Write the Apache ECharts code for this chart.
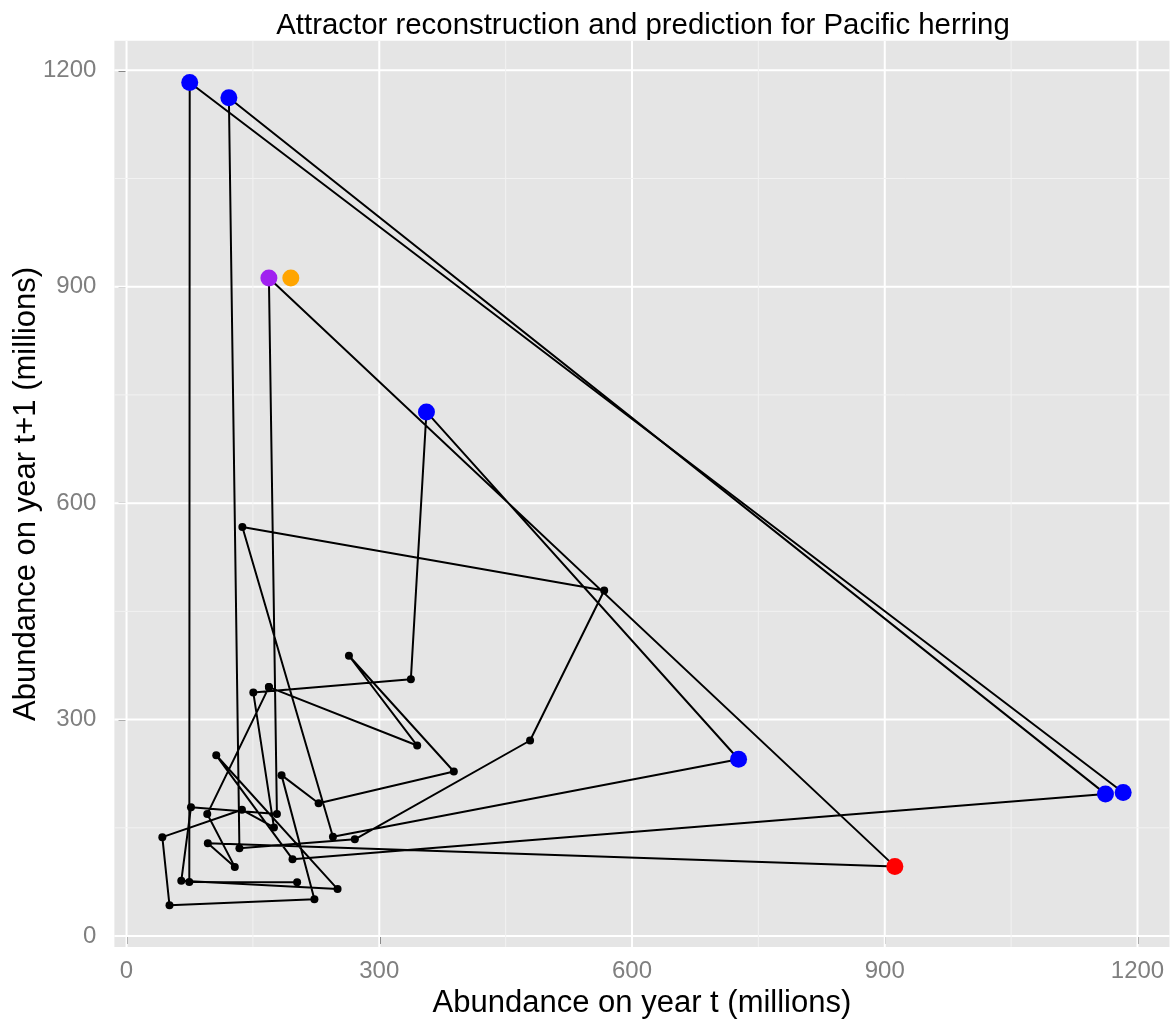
<!DOCTYPE html>
<html>
<head>
<meta charset="utf-8">
<script src="https://cdn.jsdelivr.net/npm/echarts@6/dist/echarts.min.js"></script>
<style>
html, body { margin: 0; padding: 0; background: #ffffff; }
#chart { width: 1174px; height: 1020px; }
</style>
</head>
<body>
<div id="chart"></div>
<script>
// ---- data ----
// main trajectory: abundance on year t and on year t+1 (millions), in path order
const cycleT  = [169, 345, 264, 388.5, 228, 184, 223, 51, 42.5, 137, 175, 150.5, 337.5, 356, 726.5, 245, 137.5, 567, 479, 271, 134, 121.5, 1162, 197, 106.5, 250.5, 65, 76.5, 178.5, 169, 912, 96.5, 128.5, 95.8, 169];
const cycleT1 = [345, 264, 388.5, 228, 184, 223, 51, 42.5, 137, 175, 150.5, 337.5, 356, 726.5, 245, 137.5, 567, 479, 271, 134, 121.5, 1162, 197, 106.5, 250.5, 65, 76.5, 178.5, 169, 912, 96.5, 128.5, 95.8, 169, 345];
// second short trajectory piece
const pathT  = [202.5, 74.5, 75, 1183];
const pathT1 = [74.5, 75, 1183, 199];
// highlighted points
const neighborT  = [75, 121.5, 356, 726.5, 1162, 1183];
const neighborT1 = [1183, 1162, 726.5, 245, 197, 199];
const targetT = [169],  targetT1 = [912];
const observedT = [912], observedT1 = [96.5];
const predictedT = [195], predictedT1 = [912];
// axis ticks
const majorTicks = [0, 300, 600, 900, 1200];
const minorTicks = [150, 450, 750, 1050];

const titleText = 'Attractor reconstruction and prediction for Pacific herring';
const xTitle = 'Abundance on year t (millions)';
const yTitle = 'Abundance on year t+1 (millions)';

// ---- build ----
const zip = (a, b) => a.map((v, i) => [v, b[i]]);
const gridData = [];
majorTicks.forEach(v => { gridData.push([0, v, 1]); gridData.push([1, v, 1]); });
minorTicks.forEach(v => { gridData.push([0, v, 0]); gridData.push([1, v, 0]); });

const FONT = 'Liberation Sans, Arial, Helvetica, sans-serif';
const chart = echarts.init(document.getElementById('chart'), null, { renderer: 'canvas' });

function axisCommon(name, isX) {
  return {
    type: 'value',
    min: isX ? -14.4 : -15.1,
    max: isX ? 1238 : 1240.9,
    name: name,
    nameLocation: 'middle',
    nameGap: isX ? 38 : 72,
    nameMoveOverlap: isX ? undefined : false,
    nameTextStyle: { fontFamily: FONT, fontSize: 31, color: '#000000' },
    axisLine: { show: false },
    splitLine: { show: false },
    axisTick: { show: true, customValues: majorTicks, length: 8, lineStyle: { color: '#333333', width: 1.5 } },
    axisLabel: {
      customValues: majorTicks, fontFamily: FONT, fontSize: 24, color: '#7F7F7F', margin: isX ? 12 : 18,
      formatter: function (v) { return String(v); }
    }
  };
}

const option = {
  animation: false,
  backgroundColor: '#ffffff',
  title: {
    text: titleText,
    left: 638, top: 6, textAlign: 'center',
    textStyle: { fontFamily: FONT, fontSize: 29.4, fontWeight: 'normal', color: '#000000' }
  },
  grid: {
    left: 114.4, right: 4.5, top: 40.8, bottom: 73.1,
    outerBoundsMode: 'none', containLabel: false,
    show: true, backgroundColor: '#E5E5E5', borderWidth: 0
  },
  xAxis: axisCommon(xTitle, true),
  yAxis: axisCommon(yTitle, false),
  series: [
    {
      type: 'custom', z: 1, silent: true, clip: true,
      data: gridData,
      renderItem: function (params, api) {
        const cs = params.coordSys;
        const dir = api.value(0), v = api.value(1), major = api.value(2) === 1;
        const style = { stroke: major ? '#FFFFFF' : '#F2F2F2', lineWidth: major ? 2 : 1 };
        if (dir === 0) {
          const p = api.coord([v, 0]);
          return { type: 'line', shape: { x1: p[0], y1: cs.y, x2: p[0], y2: cs.y + cs.height }, style: style };
        } else {
          const p = api.coord([0, v]);
          return { type: 'line', shape: { x1: cs.x, y1: p[1], x2: cs.x + cs.width, y2: p[1] }, style: style };
        }
      }
    },
    {
      type: 'line', z: 3, data: zip(cycleT, cycleT1),
      symbol: 'circle', symbolSize: 8, showSymbol: true, showAllSymbol: true,
      itemStyle: { color: '#000000' }, lineStyle: { color: '#000000', width: 2 }
    },
    {
      type: 'line', z: 3, data: zip(pathT, pathT1),
      symbol: 'circle', symbolSize: 8, showSymbol: true, showAllSymbol: true,
      itemStyle: { color: '#000000' }, lineStyle: { color: '#000000', width: 2 }
    },
    { type: 'scatter', z: 4, data: zip(neighborT, neighborT1), symbolSize: 17, itemStyle: { color: '#0000FF', opacity: 1 } },
    { type: 'scatter', z: 4, data: zip(targetT, targetT1), symbolSize: 17, itemStyle: { color: '#A020F0', opacity: 1 } },
    { type: 'scatter', z: 4, data: zip(observedT, observedT1), symbolSize: 17, itemStyle: { color: '#FF0000', opacity: 1 } },
    { type: 'scatter', z: 4, data: zip(predictedT, predictedT1), symbolSize: 17, itemStyle: { color: '#FFA500', opacity: 1 } }
  ]
};
chart.setOption(option);
</script>
</body>
</html>
